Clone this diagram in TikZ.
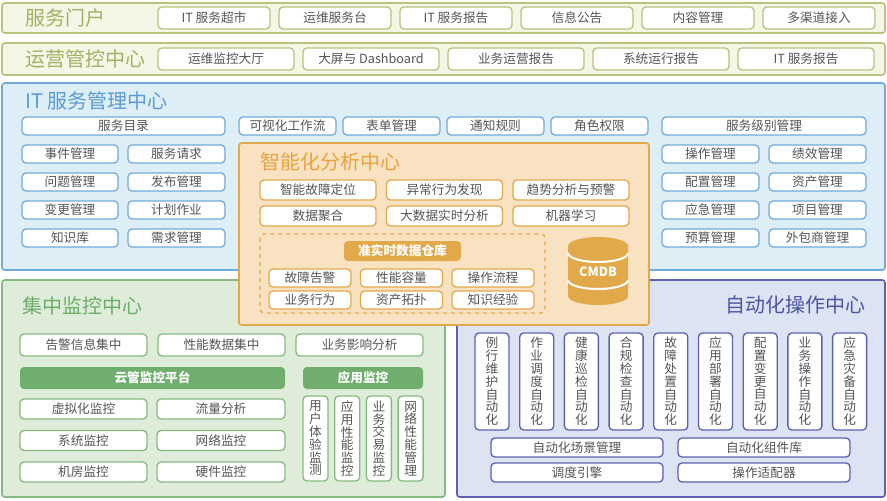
\documentclass[tikz,border=0pt]{standalone}
\usepackage{fontspec}
\setmainfont{Noto Sans CJK SC}
\XeTeXlinebreaklocale "zh"
\definecolor{olivebd}{HTML}{B7C47E}
\definecolor{olivebg}{HTML}{F4F6E6}
\definecolor{olivetx}{HTML}{A3B064}
\definecolor{bluebd}{HTML}{72AADB}
\definecolor{bluebg}{HTML}{DDEEF6}
\definecolor{bluetx}{HTML}{5B9BD5}
\definecolor{orbd}{HTML}{E2A94B}
\definecolor{orbg}{HTML}{F9E2C1}
\definecolor{ortx}{HTML}{E9A33E}
\definecolor{grbd}{HTML}{86BB80}
\definecolor{grbg}{HTML}{DEECD9}
\definecolor{grtx}{HTML}{6CAE6A}
\definecolor{grfill}{HTML}{6FAE6D}
\definecolor{pubd}{HTML}{5D62B0}
\definecolor{pubg}{HTML}{DCE3F2}
\definecolor{putx}{HTML}{4B56A3}
\definecolor{txt}{HTML}{555555}
\tikzset{
  panel/.style={draw=#1bd, fill=#1bg, line width=1.2pt, rounded corners=2pt},
  title/.style={anchor=west, text=#1tx, font=\fontsize{15}{15}\selectfont, inner sep=0pt},
  item/.style={draw=#1bd, fill=white, line width=1pt, rounded corners=3pt, text=txt,
    font=\fontsize{9.5}{10}\selectfont, inner sep=0pt},
  vitem/.style={item=#1, text width=1.1em, align=center, font=\fontsize{9.5}{9.6}\selectfont},
  head/.style={fill=#1, rounded corners=3pt, text=white, font=\fontsize{9.5}{10}\selectfont\bfseries, inner sep=0pt}
}
% box from corner to corner, in pixels
\newcommand{\bx}[6]{\node[#1, minimum width={((#4)-(#2))*0.75pt}, minimum height={((#5)-(#3))*0.75pt}] (#6) at ({((#2)+(#4))/2},{((#3)+(#5))/2})}
\begin{document}
\begin{tikzpicture}[x=0.75pt,y=-0.75pt]
\useasboundingbox (0,0) rectangle (887,500);
% portal row
\draw[panel=olive] (2,3) rectangle (885,33);
\node[title=olive] (portal) at (25,18) {服务门户};
\foreach \t [count=\i] in {IT 服务超市,运维服务台,IT 服务报告,信息公告,内容管理,多渠道接入}
  \bx{item=olive}{158+121*(\i-1)}{7}{270+121*(\i-1)}{29}{p\i} {\t};
% operations row
\draw[panel=olive] (2,43) rectangle (885,75);
\node[title=olive] (ops) at (25,59) {运营管控中心};
\foreach \t [count=\i] in {运维监控大厅,大屏与 Dashboard,业务运营报告,系统运行报告,IT 服务报告}
  \bx{item=olive}{158+145*(\i-1)}{48}{294+145*(\i-1)}{70}{o\i} {\t};
% IT service management
\draw[panel=blue] (2,83) rectangle (885,270);
\node[title=blue] (itsm) at (25,101) {IT 服务管理中心};
\bx{item=blue}{22}{117}{225}{135}{catalog} {服务目录};
\bx{item=blue}{662}{117}{866}{135}{sla} {服务级别管理};
\foreach \t [count=\i] in {可视化工作流,表单管理,通知规则,角色权限}
  \bx{item=blue}{239+104*(\i-1)}{117}{336+104*(\i-1)}{135}{m\i} {\t};
\foreach \a/\b [count=\i] in {事件管理/服务请求,问题管理/发布管理,变更管理/计划作业,知识库/需求管理}{
  \bx{item=blue}{22}{145+28*(\i-1)}{118}{163+28*(\i-1)}{l\i} {\a};
  \bx{item=blue}{128}{145+28*(\i-1)}{225}{163+28*(\i-1)}{r\i} {\b};
}
\foreach \a/\b [count=\i] in {操作管理/绩效管理,配置管理/资产管理,应急管理/项目管理,预算管理/外包商管理}{
  \bx{item=blue}{662}{145+28*(\i-1)}{759}{163+28*(\i-1)}{sl\i} {\a};
  \bx{item=blue}{769}{145+28*(\i-1)}{866}{163+28*(\i-1)}{sr\i} {\b};
}
% centralized monitoring
\draw[panel=gr] (2,280) rectangle (445,497);
\node[title=gr] (mon) at (22,306) {集中监控中心};
\foreach \t [count=\i] in {告警信息集中,性能数据集中,业务影响分析}
  \bx{item=gr}{20+138*(\i-1)}{334}{147+138*(\i-1)}{356}{g\i} {\t};
\bx{head=grfill}{20}{367}{285}{389}{cloud} {云管监控平台};
\bx{head=grfill}{303}{367}{423}{389}{app} {应用监控};
\foreach \a/\b [count=\i] in {虚拟化监控/流量分析,系统监控/网络监控,机房监控/硬件监控}{
  \bx{item=gr}{20}{399+31.5*(\i-1)}{147}{419+31.5*(\i-1)}{gl\i} {\a};
  \bx{item=gr}{157}{399+31.5*(\i-1)}{285}{419+31.5*(\i-1)}{gr\i} {\b};
}
\foreach \t [count=\i] in {用户体验监测,应用性能监控,业务交易监控,网络性能管理}
  \bx{vitem=gr}{303+31.7*(\i-1)}{396}{328+31.7*(\i-1)}{481}{ga\i} {\t};
% automation
\draw[panel=pu] (457,280) rectangle (885,497);
\node[title=pu, anchor=east] (auto) at (866,305) {自动化操作中心};
\foreach \t [count=\i] in {例行维护自动化,作业调度自动化,健康巡检自动化,合规检查自动化,故障处置自动化,应用部署自动化,配置变更自动化,业务操作自动化,应急灾备自动化}
  \bx{vitem=pu}{475+44.7*(\i-1)}{333}{509+44.7*(\i-1)}{430}{a\i} {\t};
\bx{item=pu}{491}{438}{663}{457}{scene} {自动化场景管理};
\bx{item=pu}{678}{438}{850}{457}{comp} {自动化组件库};
\bx{item=pu}{491}{463}{663}{482}{sched} {调度引擎};
\bx{item=pu}{678}{463}{850}{482}{adapt} {操作适配器};
% intelligent analysis
\draw[panel=or] (239,143) rectangle (649,325);
\node[title=or] (ai) at (260,162) {智能化分析中心};
\foreach \a/\b [count=\i] in {智能故障定位/数据聚合,异常行为发现/大数据实时分析,趋势分析与预警/机器学习}{
  \bx{item=or}{260+126.5*(\i-1)}{180}{376+126.5*(\i-1)}{200}{ia\i} {\a};
  \bx{item=or}{260+126.5*(\i-1)}{206}{376+126.5*(\i-1)}{226}{ib\i} {\b};
}
\draw[orbd, line width=1pt, dashed, rounded corners=3pt] (260,234) rectangle (545,313);
\bx{head=orbd}{344}{241}{461}{261}{dw} {准实时数据仓库};
\foreach \a/\b [count=\i] in {故障告警/业务行为,性能容量/资产拓扑,操作流程/知识经验}{
  \bx{item=or}{269+91.5*(\i-1)}{269}{351+91.5*(\i-1)}{287}{da\i} {\a};
  \bx{item=or}{269+91.5*(\i-1)}{291}{351+91.5*(\i-1)}{309}{db\i} {\b};
}
% CMDB
\fill[orbd] (568,246) -- (568,296) arc[start angle=180, end angle=0, x radius=30, y radius=9] -- (628,246) -- cycle;
\fill[orbd] (598,246) ellipse[x radius=30, y radius=9];
\draw[white, line width=1.5pt] (568,253) arc[start angle=180, end angle=0, x radius=30, y radius=9];
\draw[white, line width=1.5pt] (568,280) arc[start angle=180, end angle=0, x radius=30, y radius=9];
\node[text=white, font=\fontsize{9.5}{10}\selectfont\bfseries] (cmdb) at (598,272) {CMDB};
\end{tikzpicture}
\end{document}
